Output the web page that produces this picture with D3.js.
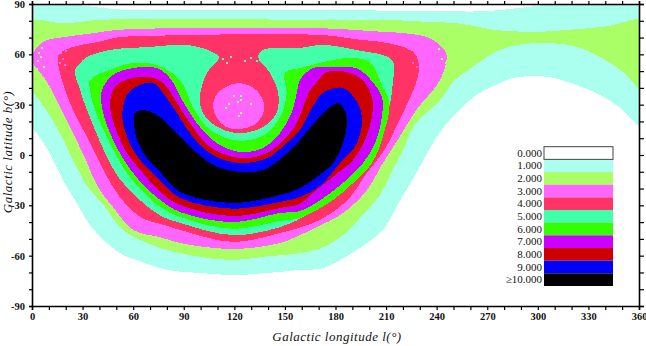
<!DOCTYPE html>
<html>
<head>
<meta charset="utf-8">
<script src="https://cdn.jsdelivr.net/npm/d3@7"></script>
<style>
  html, body { margin: 0; padding: 0; background: #fff; }
  text { font-family: "Liberation Serif", serif; fill: #111; }
</style>
</head>
<body>
<div id="map"></div>
<script>
// level outlines, each vertex is [longitude, latitude]
var level1 = [[-6,85.5],[60,86.4],[172,86.4],[260,85.5],[366,85],[366,14],[349,28],[337,35.8],[323,41.7],[307,46.4],[295,47],[285,45.8],[275,41.7],[263.5,35.8],[251.5,25],[240,10.7],[228,-10.7],[218,-27.5],[208,-44.7],[192,-57],[172.6,-67.4],[159,-68.5],[139,-70.4],[119,-71.6],[99.6,-70.3],[80,-68.5],[64,-63.3],[52,-58.4],[35.4,-43],[26.5,-28.6],[18.4,-15],[8.7,4.2],[0.4,16],[-6,22]];
var level2 = [[-6,78.9],[20,78.5],[40,80.5],[100,81],[172.5,80.5],[212,80.5],[232,79.5],[251.5,78.6],[275,74.5],[291,73.5],[303,73.5],[319,74.7],[340,76.5],[366,80],[366,35],[350.4,49.7],[340,56.6],[331,61.5],[319,65.6],[301,66.6],[287,65.6],[275,61.5],[265.6,55.6],[257.5,49.7],[250.7,44.7],[242,32.8],[227,18],[220,3],[213,-10.7],[206,-24.4],[196,-35.8],[186,-46.5],[172.6,-55],[159,-58.5],[139,-60.5],[117.5,-62.6],[95.7,-60],[76,-55.4],[54,-44.7],[43.3,-31],[33.2,-19],[23.5,-1.2],[16.6,13],[7.7,28],[0.5,37.6],[-6,45]];
var level3 = [[0.8,60.6],[6.7,67.5],[20.5,70.5],[36,72.5],[50,74.5],[80,75.5],[172,75.5],[192,74.5],[206.5,73.5],[222,72.5],[236,69.5],[245.6,60.6],[242,44.7],[228,27],[218,10.7],[208,-5],[198.6,-21],[184.5,-34.6],[169,-43],[159,-47.7],[147,-52.5],[119.2,-56],[88,-52.5],[76,-49],[60,-44.7],[48,-31],[39,-19],[32.4,-4],[25.5,10.7],[18.4,25],[11.7,38.7],[6.7,46.7],[0.8,54.6]];
var level4 = [[15.6,59.6],[19.6,62.6],[28.5,65.5],[40,67.5],[50,70],[70,71],[172,71.5],[192,69],[212,66.5],[226,61.6],[229,56],[229,47],[225,36],[218,21],[209,3],[198.6,-10.7],[187,-27],[170.8,-38.7],[147,-46.5],[119,-51.8],[88,-44.7],[76,-41],[65,-37.5],[52,-25],[44.5,-13],[37.4,1.2],[31.4,13],[24.3,27],[19.6,38.7],[16.6,49]];
var level5 = [[25.5,50.7],[28.5,54.8],[32.6,58.4],[46,62.6],[70,64.4],[92,65.6],[107,61.4],[111,58],[103.8,49],[99.6,34.6],[101.4,25],[110,16.7],[123,13],[137,16.7],[145,25],[146,37],[141,49],[134,58.4],[137,62.6],[159,63.8],[172.6,65.6],[192,62.6],[213.5,56.6],[214,43],[210.5,22.7],[202,3],[192.7,-10.7],[181,-22.6],[165,-34.6],[147,-43],[119,-47.7],[88,-40.5],[76,-36],[62,-25],[51,-13],[43.3,1.2],[37.4,15],[32.6,26.8],[28.5,38.7]];
var level6 = [[34.4,44.7],[46,50.7],[60,54.8],[74,53.6],[87.8,44.7],[95.5,28.6],[105.6,15],[123.3,8.4],[139.4,13],[148.3,25],[151,37],[150,49],[159,51.8],[178.5,56.6],[188.6,57.8],[200.4,55.4],[208,40.5],[212,31],[208,10.7],[201.6,-4.8],[190.4,-16.7],[178.5,-26.8],[159,-37.5],[147,-39.3],[119,-44],[88,-37],[76,-31],[65.8,-22],[56.3,-10.7],[49.2,1.2],[43.3,13],[37.4,26.8],[34.4,38.7]];
var level7 = [[41.5,38.7],[48,47.7],[60,51.8],[74,51.8],[81.8,45.9],[89,32.8],[97.8,19],[109.7,7],[123.3,1.8],[137,4.2],[147,13],[154,25],[157,37],[159,44.7],[166.6,51.8],[178.5,52.5],[188.6,52.5],[194.5,50.7],[202,43.5],[207.5,34.6],[207.5,22.7],[203.4,7],[196.3,-4.8],[184.4,-16.7],[170.8,-27],[159,-33.4],[147,-34.6],[119.2,-40],[87.8,-34],[76,-26.8],[62.3,-13.7],[53.4,-1.2],[46.3,13],[41.5,28.6]];
var level8 = [[48,38.7],[52,43],[60,46],[70,46.5],[77.7,43],[86,31],[93.7,19],[105.6,4.8],[123.3,-1.8],[139.4,1.2],[151,10.7],[157,19],[160.8,28.6],[165,38.7],[169,43.5],[175,49.5],[188.6,48.9],[197.5,43],[201.6,34.6],[201.6,22.7],[197.5,9],[190.4,-3],[178.5,-13],[166.6,-22.6],[159,-29],[147,-31.6],[119.2,-36.4],[87.8,-29.8],[76,-22],[65.2,-10],[56.3,1.2],[49.2,16.7],[46.3,28.6]];
var level9 = [[54,28.6],[57,37],[64,41.7],[71.8,43],[77.7,37],[86,25],[95.5,10.7],[107.3,0],[123.3,-4.8],[139.4,-1.8],[151,7],[159,15],[166,28],[172.6,37],[184.4,40],[192.7,31.6],[195.7,22.7],[192.7,7],[182.6,-4.8],[170.8,-18.5],[159,-25],[147,-28],[119.2,-32],[87.8,-25.6],[76,-15],[68.2,-7.7],[60,3],[54,19]];
var level10 = [[60.5,19],[61,25],[65.8,26.8],[74,23.8],[86,13],[97.8,1.2],[109.7,-7],[123.3,-10],[137,-9],[148.8,-1.2],[159,9],[169,20.9],[180.9,31],[184.4,28.6],[186.8,20.9],[184.4,7],[178.5,-4.8],[169,-13],[159,-19.7],[147,-23.8],[119.2,-28.6],[87.8,-22],[76,-10],[68.2,-1.8],[62.3,9]];
// the low patch in the middle of the hole, level 3 inside level 4
var island = [[122,42.9],[129.3,41.1],[134,37.6],[137.6,30.4],[136.4,23.2],[131.6,17.9],[123.3,15.5],[115,16.7],[109.7,22],[107.3,29.2],[109.7,36.4],[115,40.5]];

// stray cells, [longitude, latitude]
var specksLevel2 = [[119.2,35.8],[123.3,35.8],[123.3,33.4],[121.6,32.2],[116.2,31],[114.4,28.6],[129.3,31],[123.3,25.6],[122.2,23.8],[3.6,61.4],[5.3,64.4],[3,56.6],[6.5,53],[4.7,59],[2.4,51.8],[243.7,65.6],[245.5,61.4],[242.5,57.8],[244.9,55.4],[240.8,63.8],[242,68.5]];
var specksLevel3 = [[16.6,61.4],[17.8,57.8],[16,55.4],[19.6,62.6],[19,54.2],[226.5,61.4],[228.9,58.4],[225.3,55.4],[230,62.6],[227.7,53],[223,63.8]];
var specksLevel5 = [[112.7,57.8],[117.4,59],[129.3,58.4],[132.8,56.6],[115,55.4],[125.7,56.6]];

var levelNames = ["0.000","1.000","2.000","3.000","4.000","5.000","6.000","7.000","8.000","9.000","\u226510.000"];
var levelColors = ["#ffffff","#aaffee","#aaff66","#ff66ff","#ff3366","#44ffaa","#33ff00","#cc00ff","#cc0000","#0000ff","#000000"];
var lonTicks = d3.range(0, 361, 10);
var latTicks = d3.range(-90, 91, 10);

var svgWidth = 646;
var svgHeight = 346;
var margin = { top: 4, bottom: 40, right: 7, left: 32 };
var width = svgWidth - margin.left - margin.right;
var height = svgHeight - margin.top - margin.bottom;

var svg = d3.select("#map")
  .append("svg")
  .attr("width", svgWidth)
  .attr("height", svgHeight)
  .style("display", "block");

svg.append("clipPath")
  .attr("id", "plotClip")
  .append("rect")
  .attr("width", width)
  .attr("height", height);

var chartGroup = svg.append("g")
  .attr("transform", `translate(${margin.left}, ${margin.top})`);

var mapGroup = chartGroup.append("g")
  .attr("clip-path", "url(#plotClip)");

var xScale = d3.scaleLinear().domain([0, 360]).range([0, width]);
var yScale = d3.scaleLinear().domain([-90, 90]).range([height, 0]);

var outline = d3.line()
  .x(d => xScale(d[0]))
  .y(d => yScale(d[1]))
  .curve(d3.curveCatmullRomClosed.alpha(0.5));

function drawLevel(points, level) {
  mapGroup.append("path")
    .attr("d", outline(points))
    .attr("fill", levelColors[level])
    .attr("shape-rendering", "crispEdges");
}

drawLevel(level1, 1);
drawLevel(level2, 2);
drawLevel(level3, 3);
drawLevel(level4, 4);
drawLevel(island, 3);
drawLevel(level5, 5);
drawLevel(level6, 6);
drawLevel(level7, 7);
drawLevel(level8, 8);
drawLevel(level9, 9);
drawLevel(level10, 10);

function drawSpecks(cells, level) {
  mapGroup.selectAll(".speck" + level)
    .data(cells)
    .enter()
    .append("rect")
    .attr("class", "speck" + level)
    .attr("x", d => xScale(d[0]))
    .attr("y", d => yScale(d[1]))
    .attr("width", xScale(1.2) - xScale(0))
    .attr("height", yScale(0) - yScale(1.2))
    .attr("fill", levelColors[level])
    .attr("shape-rendering", "crispEdges");
}

drawSpecks(specksLevel2, 2);
drawSpecks(specksLevel3, 3);
drawSpecks(specksLevel5, 5);

// axes, all four sides carry ticks pointing out
function labelEvery30(d) {
  return d % 30 === 0 ? d : "";
}

function styleAxis(g) {
  g.select(".domain").attr("stroke", "#000").attr("stroke-width", 1.6);
  g.selectAll(".tick line").attr("stroke", "#000").attr("stroke-width", 1.2);
  g.selectAll("text").style("font-size", "10.5px").style("font-weight", "bold").attr("fill", "#111");
}

chartGroup.append("g")
  .attr("transform", `translate(0, ${height})`)
  .call(d3.axisBottom(xScale).tickValues(lonTicks).tickSize(4).tickPadding(3).tickFormat(labelEvery30))
  .call(styleAxis);
chartGroup.append("g")
  .call(d3.axisTop(xScale).tickValues(lonTicks).tickSize(3).tickFormat(""))
  .call(styleAxis);
chartGroup.append("g")
  .call(d3.axisLeft(yScale).tickValues(latTicks).tickSize(3).tickPadding(4).tickFormat(labelEvery30))
  .call(styleAxis);
chartGroup.append("g")
  .attr("transform", `translate(${width}, 0)`)
  .call(d3.axisRight(yScale).tickValues(latTicks).tickSize(5).tickFormat(""))
  .call(styleAxis);

// axis titles
svg.append("text")
  .attr("x", 337)
  .attr("y", 341)
  .attr("text-anchor", "middle")
  .style("font-size", "13px")
  .style("font-style", "italic")
  .style("letter-spacing", "0.5px")
  .text("Galactic longitude l(\u00b0)");

svg.append("text")
  .attr("transform", "translate(12, 152) rotate(-90)")
  .attr("text-anchor", "middle")
  .style("font-size", "13px")
  .style("font-style", "italic")
  .style("letter-spacing", "0.5px")
  .text("Galactic latitude b(\u00b0)");

// legend
var legendScale = d3.scaleBand()
  .domain(levelNames)
  .range([146.7, 286]);

var legend = svg.append("g");

legend.selectAll("rect")
  .data(levelNames)
  .enter()
  .append("rect")
  .attr("x", 544)
  .attr("y", d => legendScale(d))
  .attr("width", 69)
  .attr("height", legendScale.bandwidth())
  .attr("fill", (d, i) => levelColors[i]);

legend.append("rect")
  .attr("x", 544)
  .attr("y", legendScale(levelNames[0]))
  .attr("width", 69)
  .attr("height", legendScale.bandwidth())
  .attr("fill", "none")
  .attr("stroke", "#444");

legend.selectAll("text")
  .data(levelNames)
  .enter()
  .append("text")
  .attr("x", 542)
  .attr("y", d => legendScale(d) + legendScale.bandwidth() / 2 + 3.5)
  .attr("text-anchor", "end")
  .style("font-size", "11px")
  .text(d => d);
</script>
</body>
</html>
